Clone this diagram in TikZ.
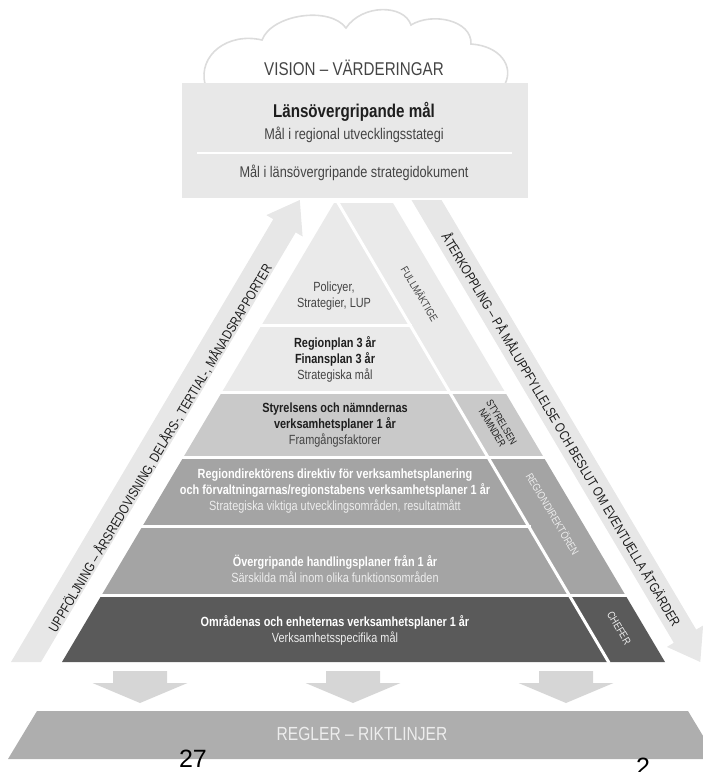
\documentclass[tikz,border=0pt]{standalone}
\usepackage{fontspec}
\setmainfont[FakeStretch=0.82]{Liberation Sans}
\newfontfamily\plainarial{Liberation Sans}
\definecolor{boxgray}{HTML}{E8E8E8}
\definecolor{arrowgray}{HTML}{E7E7E7}
\definecolor{tierA}{HTML}{EAEAEA}
\definecolor{tierB}{HTML}{C9C9C9}
\definecolor{tierC}{HTML}{A4A4A4}
\definecolor{tierD}{HTML}{5A5A5A}
\definecolor{downgray}{HTML}{D6D6D6}
\definecolor{bargray}{HTML}{AEAEAE}
\definecolor{cloudline}{HTML}{DCDCDC}
\definecolor{txtdark}{HTML}{1E1E1E}
\definecolor{txtmid}{HTML}{444444}
\definecolor{txtlight}{HTML}{EDEDED}
\begin{document}
\begin{tikzpicture}[x=1pt,y=1pt,
  gapline/.style={white,line width=3pt},
  tiertxt/.style={align=center,inner sep=0pt,font=\fontsize{13.3}{16}\selectfont},
  striplabel/.style={align=center,inner sep=0pt,rotate=-59.35,font=\fontsize{10.8}{11.5}\selectfont},
  sidelabel/.style={inner sep=0pt,font=\fontsize{13.6}{16}\selectfont,text=txtdark},
  downarrow/.style={fill=downgray,draw=none}
]
\useasboundingbox (0,0) rectangle (703,-772);

% cloud
\draw[cloudline,line width=1.6pt]
  (205,-84) .. controls (198,-55) and (228,-32) .. (262,-40)
  .. controls (272,-14) and (330,-6) .. (346,-28)
  .. controls (362,-4) and (404,-4) .. (411,-25)
  .. controls (432,-12) and (472,-20) .. (471,-44)
  .. controls (500,-46) and (514,-66) .. (505,-84);

% top box
\fill[boxgray] (182,-83) rectangle (528,-198);
\draw[white,line width=1.2pt] (197,-153) -- (512,-153);
\node[font=\fontsize{18.5}{20}\selectfont,text=txtmid] (vision) at (354,-68) {VISION – VÄRDERINGAR};
\node[font=\bfseries\fontsize{18.5}{20}\selectfont,text=txtdark] (lans) at (354,-112) {Länsövergripande mål};
\node[font=\fontsize{15.5}{17}\selectfont,text=txtmid] (malreg) at (354,-135) {Mål i regional utvecklingsstategi};
\node[font=\fontsize{15.5}{17}\selectfont,text=txtmid] (mallans) at (354,-173) {Mål i länsövergripande strategidokument};

% side arrows
\fill[arrowgray] (11,-662) -- (273.3,-219.2) -- (266.4,-215.1) -- (299.8,-200)
  -- (302.6,-236.5) -- (295.7,-232.4) -- (41,-662) -- cycle;
\fill[arrowgray] (411.5,-200) -- (441.5,-200) -- (696.2,-629.6) -- (703.1,-625.5)
  -- (700.3,-662) -- (666.9,-646.9) -- (673.8,-642.8) -- cycle;

% pyramid bands
\fill[tierA] (334,-203) -- (393,-203) -- (505.3,-392.5) -- (221.7,-392.5) -- cycle;
\fill[tierB] (221.7,-392.5) -- (505.3,-392.5) -- (543.8,-457.5) -- (183.2,-457.5) -- cycle;
\fill[tierC] (183.2,-457.5) -- (543.8,-457.5) -- (625.6,-595.5) -- (101.4,-595.5) -- cycle;
\fill[tierD] (101.4,-595.5) -- (625.6,-595.5) -- (665,-662) -- (62,-662) -- cycle;

% white gaps
\draw[gapline] (258,-325) -- (412,-325);
\draw[gapline] (218,-392.5) -- (509,-392.5);
\draw[gapline] (180,-457.5) -- (547,-457.5);
\draw[gapline] (139,-526.5) -- (531,-526.5);
\draw[gapline] (98,-595.5) -- (629,-595.5);
\draw[gapline] (337,-201) -- (609.2,-663);

% tier texts
\node[tiertxt,text=txtmid] (pol) at (334,-296) {Policyer,\\Strategier, LUP};
\node[tiertxt,text=txtdark] (rp) at (335,-359) {\textbf{Regionplan 3 år}\\\textbf{Finansplan 3 år}\\{\color{txtmid}Strategiska mål}};
\node[tiertxt,text=txtdark] (sty) at (335,-425) {\textbf{Styrelsens och nämndernas}\\\textbf{verksamhetsplaner 1 år}\\{\color{txtmid}Framgångsfaktorer}};
\node[tiertxt,text=white] (rd) at (335,-491.5) {\textbf{Regiondirektörens direktiv för verksamhetsplanering}\\\textbf{och förvaltningarnas/regionstabens verksamhetsplaner 1 år}\\{\color{txtlight}Strategiska viktiga utvecklingsområden, resultatmått}};
\node[tiertxt,text=white] (og) at (335,-568.5) {\textbf{Övergripande handlingsplaner från 1 år}\\{\color{txtlight}Särskilda mål inom olika funktionsområden}};
\node[tiertxt,text=white] (om) at (335,-630) {\textbf{Områdenas och enheternas verksamhetsplaner 1 år}\\{\color{txtlight}Verksamhetsspecifika mål}};

% strip labels
\node[striplabel,text=txtmid] (fm) at (420,-294) {FULLMÄKTIGE};
\node[striplabel,text=txtdark,font=\fontsize{10.3}{10.8}\selectfont] (sn) at (497,-425) {STYRELSEN\\NÄMNDER};
\node[striplabel,text=txtlight] (rdk) at (553,-514) {REGIONDIREKTÖREN};
\node[striplabel,text=txtlight] (ch) at (619,-628) {CHEFER};

% arrow labels
\node[sidelabel,rotate=59.35] (upp) at (160,-448) {UPPFÖLJNING – ÅRSREDOVISNING, DELÅRS-, TERTIAL-, MÅNADSRAPPORTER};
\node[sidelabel,rotate=-59.35] (ater) at (562,-429) {ÅTERKOPPLING – PÅ MÅLUPPFYLLELSE OCH BESLUT OM EVENTUELLA ÅTGÄRDER};

% down arrows
\foreach \c/\nm in {140/da, 353/db, 566/dc}{
  \fill[downgray] (\c-27,-671) -- (\c+27,-671) -- (\c+27,-683) -- (\c+47.5,-683)
    -- (\c,-703) -- (\c-47.5,-683) -- (\c-27,-683) -- cycle;
}

% bottom bar
\fill[bargray] (37,-711) -- (688,-711) -- (717,-759) -- (8,-759) -- cycle;
\node[font=\fontsize{19}{21}\selectfont,text=txtlight] (regler) at (362,-734) {REGLER – RIKTLINJER};

\node[font=\plainarial\fontsize{25}{27}\selectfont] (p27) at (193,-759) {27};
\node[font=\plainarial\fontsize{25}{27}\selectfont] (p2) at (643,-767) {2};
\end{tikzpicture}
\end{document}
